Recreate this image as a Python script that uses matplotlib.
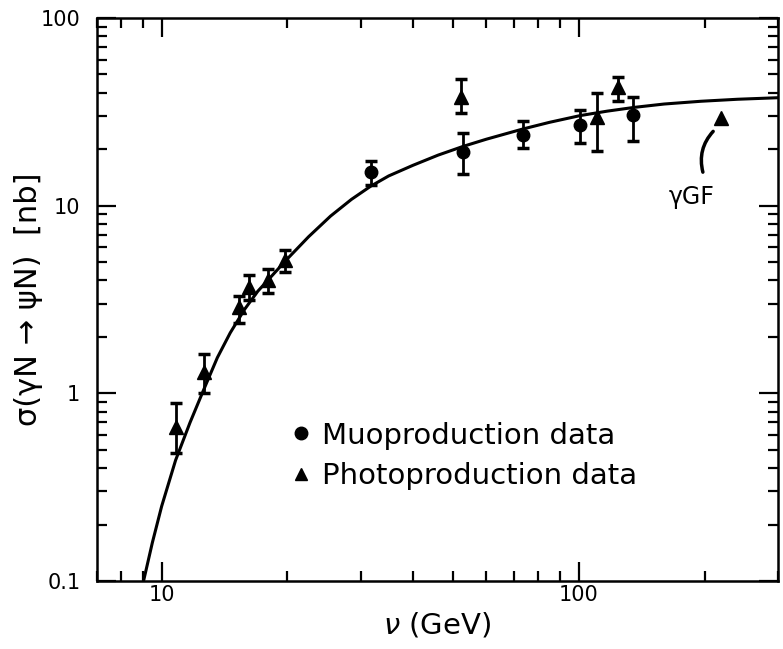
import matplotlib
matplotlib.use("Agg")
import matplotlib.pyplot as plt
from matplotlib.ticker import FixedLocator, NullFormatter, FixedFormatter
from matplotlib.lines import Line2D

plt.rcParams['font.family'] = ['DejaVu Sans']

# ---- data ----
muo_x = [31.7, 52.8, 73.3, 100.7, 134.6]
muo_y = [15.2, 19.4, 23.8, 26.9, 30.4]
muo_lo = [12.9, 14.7, 20.2, 21.5, 22.1]
muo_hi = [17.4, 24.3, 28.1, 32.4, 37.8]

photo_x = [10.8, 12.6, 15.3, 16.2, 18.0, 19.8, 52.1, 110.4, 124.2]
photo_y = [0.66, 1.30, 2.90, 3.67, 4.02, 5.14, 38.1, 29.8, 43.0]
photo_lo = [0.48, 1.00, 2.37, 3.15, 3.41, 4.45, 31.0, 19.6, 36.2]
photo_hi = [0.89, 1.62, 3.30, 4.27, 4.58, 5.81, 47.3, 40.0, 48.3]

curve_x = [9.05, 9.5, 10.0, 10.8, 11.7, 12.6, 13.6, 14.6, 15.8, 17.0, 18.5, 20.0,
           22.5, 25.4, 28.5, 31.7, 35.0, 40.0, 46.0, 52.8, 60.0, 73.3, 85.0,
           100.7, 117.0, 135.7, 160.0, 196.0, 240.0, 300.0]
curve_y = [0.10, 0.16, 0.25, 0.44, 0.70, 1.04, 1.55, 2.1, 2.8, 3.5, 4.3, 5.2,
           6.83, 8.80, 10.8, 12.7, 14.4, 16.4, 18.6, 20.7, 22.6, 25.6, 27.8,
           30.2, 31.9, 33.4, 34.8, 36.0, 36.9, 37.6]

gf_x = [219.0]
gf_y = [29.3]

y_ticks = [0.1, 1, 10, 100]
y_tick_labels = ["0.1", "1", "10", "100"]
x_ticks = [10, 100]
x_tick_labels = ["10", "100"]

# ---- figure ----
fig = plt.figure(figsize=(7.83, 6.49), dpi=100)
ax = fig.add_axes([97/783, (649-581)/649, 681/783, 563/649])
ax.set_xscale('log')
ax.set_yscale('log')
ax.set_xlim(7.0, 300)
ax.set_ylim(0.1, 100)

ax.plot(curve_x, curve_y, color='black', lw=2.2, solid_capstyle='round',
        solid_joinstyle='round', zorder=2)

def yerr(y, lo, hi):
    return [[a - b for a, b in zip(y, lo)], [b - a for a, b in zip(y, hi)]]

ax.errorbar(muo_x, muo_y, yerr=yerr(muo_y, muo_lo, muo_hi), fmt='o', color='black',
            ms=9, elinewidth=2, capsize=4, capthick=2.5, zorder=3)
ax.errorbar(photo_x, photo_y, yerr=yerr(photo_y, photo_lo, photo_hi), fmt='^', color='black',
            ms=9.5, elinewidth=2, capsize=4, capthick=2.5, zorder=3)

ax.plot(gf_x, gf_y, marker='^', ms=10, color='black', ls='none', zorder=3)
ax.annotate("", xy=(212, 25.5), xytext=(199, 14.6),
            arrowprops=dict(arrowstyle='-', lw=2.5, color='black',
                            connectionstyle='arc3,rad=-0.3'))
ax.text(186, 11.1, "γGF", fontsize=17, ha='center', va='center')

# ticks
ax.yaxis.set_major_locator(FixedLocator(y_ticks))
ax.yaxis.set_major_formatter(FixedFormatter(y_tick_labels))
ax.xaxis.set_major_locator(FixedLocator(x_ticks))
ax.xaxis.set_major_formatter(FixedFormatter(x_tick_labels))
ax.yaxis.set_minor_formatter(NullFormatter())
ax.xaxis.set_minor_formatter(NullFormatter())
ax.tick_params(which='both', direction='in', top=True, right=True, width=1.6, labelsize=15)
ax.tick_params(which='major', length=14)
ax.tick_params(which='minor', length=7)
ax.tick_params(axis='y', which='major', pad=12)
ax.tick_params(axis='x', which='major', pad=3)
for s in ax.spines.values():
    s.set_linewidth(1.8)

ax.set_xlabel("$\\nu$ (GeV)", fontsize=21, labelpad=4)
ax.set_ylabel("σ(γN → ψN)  [nb]", fontsize=22, labelpad=-2)

handles = [Line2D([], [], marker='o', color='black', ls='none', ms=9),
           Line2D([], [], marker='^', color='black', ls='none', ms=9)]
ax.legend(handles, ["Muoproduction data", "Photoproduction data"], loc='upper left',
          bbox_to_anchor=((278-97)/681, (581-410)/563), frameon=False, fontsize=21,
          handletextpad=0.3, handlelength=0.8, labelspacing=0.42, borderaxespad=0)

fig.savefig("out.png", dpi=100)
